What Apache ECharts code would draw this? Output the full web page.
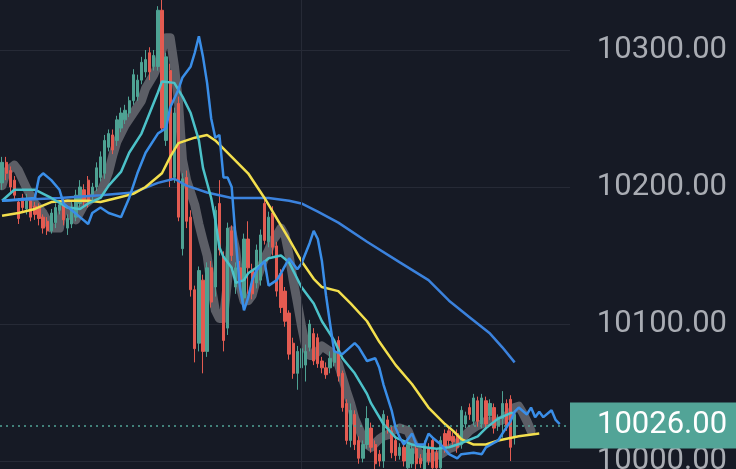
<!DOCTYPE html>
<html><head><meta charset="utf-8">
<script src="https://cdn.jsdelivr.net/npm/echarts@6/dist/echarts.min.js"></script>
<style>html,body{margin:0;padding:0;background:#161a25;}#c{width:736px;height:469px;}</style>
</head><body><div id="c"></div>
<script>
// bar slots (candles occupy 0..125, moving averages run a few slots further)
const categories = Array.from({length: 139}, (_, i) => String(i));

// candles: [open, close, low, high]
const candles = [
[10203,10218,10198,10222],[10218,10210,10205,10222],[10212,10200,10195,10215],[10205,10194,10190,10208],
[10189,10177,10173,10192],[10192,10185,10181,10195],[10184,10190,10180,10195],[10190,10178,10175,10192],
[10186,10180,10176,10189],[10185,10177,10172,10188],[10178,10170,10166,10180],[10175,10168,10165,10178],
[10168,10181,10166,10184],[10174,10185,10170,10188],[10183,10187,10180,10190],[10189,10176,10172,10192],
[10170,10177,10165,10180],[10173,10185,10170,10190],[10178,10194,10175,10198],[10188,10200,10185,10205],
[10198,10189,10185,10202],[10205,10188,10185,10208],[10193,10200,10190,10203],[10200,10214,10197,10218],
[10207,10222,10204,10226],[10210,10234,10206,10238],[10229,10239,10226,10242],[10238,10227,10224,10242],
[10234,10249,10230,10252],[10243,10254,10240,10258],[10249,10256,10246,10260],[10254,10263,10251,10266],
[10263,10282,10260,10286],[10266,10278,10263,10282],[10278,10291,10275,10295],[10284,10293,10280,10300],
[10298,10284,10278,10302],[10288,10296,10285,10300],[10288,10329,10285,10332],[10329,10243,10240,10337],
[10234,10295,10230,10298],[10285,10205,10200,10290],[10207,10254,10203,10258],[10261,10178,10175,10266],
[10155,10206,10150,10210],[10207,10175,10170,10212],[10178,10125,10120,10183],[10125,10082,10072,10128],
[10086,10139,10080,10142],[10132,10080,10064,10136],[10080,10141,10076,10145],[10141,10116,10112,10146],
[10127,10183,10120,10186],[10188,10154,10150,10205],[10149,10088,10080,10153],[10097,10170,10092,10174],
[10168,10150,10146,10172],[10127,10141,10122,10145],[10141,10131,10126,10146],[10119,10162,10115,10166],
[10162,10141,10122,10175],[10140,10122,10118,10144],[10130,10154,10126,10158],[10132,10165,10128,10169],
[10188,10161,10158,10192],[10160,10178,10156,10182],[10181,10156,10150,10186],[10157,10124,10120,10160],
[10137,10112,10108,10140],[10124,10102,10098,10127],[10108,10078,10074,10110],[10086,10064,10060,10090],
[10064,10080,10052,10084],[10068,10082,10064,10086],[10070,10080,10058,10085],[10083,10100,10080,10103],
[10093,10073,10070,10097],[10090,10071,10068,10093],[10073,10068,10064,10076],[10068,10063,10060,10072],
[10068,10075,10064,10080],[10072,10080,10069,10084],[10088,10062,10058,10091],[10064,10039,10036,10066],
[10042,10015,10012,10045],[10015,10037,10010,10042],[10034,10012,10008,10037],[10015,10002,9998,10018],
[10002,10012,9999,10015],[10012,10031,10009,10040],[10024,10010,10006,10028],[10012,9998,9993,10015],
[10005,10000,9996,10008],[10000,10034,9995,10037],[10030,10024,10020,10033],[10022,10006,10002,10025],
[10015,10004,10000,10018],[10004,10010,10001,10013],[10010,10000,9996,10013],[9995,10012,9992,10015],
[9998,10009,9995,10012],[10009,9998,9994,10012],[10002,9998,9995,10005],[9993,10012,9990,10015],
[10010,10000,9997,10013],[10015,9995,9992,10018],[10006,9995,9991,10009],[9995,10015,9990,10018],
[10020,10010,10006,10023],[10022,10015,10011,10025],[10018,10014,10010,10021],[10020,10010,10006,10023],
[10012,10037,10009,10040],[10027,10033,10024,10036],[10039,10034,10030,10042],[10029,10046,10026,10049],
[10044,10029,10025,10047],[10027,10046,10024,10049],[10044,10027,10024,10047],[10033,10042,10030,10045],
[10039,10024,10020,10042],[10026,10031,10022,10034],[10031,10042,10017,10051],[10042,10026,10022,10045],
[10045,10010,10000,10048],[10017,10034,10012,10037]
];

// moving-average style lines: [slot, value]
const grayMA = [[0,10201],[1,10211],[3,10216],[4,10212],[6,10199],[8,10188],[10,10181],[12,10170],[14,10170],[15,10187],[16,10188],[17,10179],[18,10176],[20,10187],[22,10192],[24,10196],[25,10203],[26,10211],[27,10223],[28,10233],[29,10239],[30,10245],[32,10254],[34,10263],[35,10272],[37,10282],[38,10289],[39,10300],[40,10309],[41,10309],[42,10289],[43,10263],[44,10220],[45,10205],[46,10196],[47,10187],[48,10173],[49,10161],[50,10150],[51,10128],[52,10110],[53,10104],[54,10104],[55,10132],[56,10168],[57,10154],[58,10128],[59,10117],[60,10117],[61,10121],[62,10132],[63,10140],[64,10148],[65,10154],[66,10161],[67,10165],[68,10170],[69,10165],[70,10150],[71,10132],[72,10116],[73,10099],[74,10084],[75,10077],[76,10077],[77,10080],[78,10084],[79,10082],[80,10080],[81,10077],[82,10071],[83,10061],[84,10051],[85,10042],[86,10031],[87,10024],[88,10017],[89,10012],[90,10010],[91,10013],[92,10016],[93,10018],[94,10019],[95,10022],[96,10023],[97,10024],[98,10023],[99,10022],[100,10015],[101,10009],[102,10005],[103,10003],[104,10002],[105,10003],[106,10004],[107,10005],[108,10007],[109,10009],[110,10010],[111,10013],[112,10016],[113,10019],[114,10022],[115,10024],[116,10026],[117,10027],[118,10029],[119,10029],[120,10029],[121,10029],[122,10030],[123,10033],[124,10035],[125,10039],[126,10040],[127,10035],[128,10029],[129,10022]];

const cyanMA = [[0,10190],[3,10198],[8,10198],[12,10192],[16,10185],[19,10184],[21,10188],[24,10192],[26,10201],[29,10211],[31,10225],[34,10239],[36,10254],[38,10269],[39,10277],[42,10276],[44,10266],[46,10254],[48,10234],[49,10214],[51,10192],[52,10176],[53,10156],[54,10149],[56,10141],[57,10130],[59,10132],[60,10137],[63,10143],[65,10148],[68,10150],[70,10145],[73,10127],[76,10115],[78,10102],[81,10088],[83,10075],[86,10064],[89,10049],[90,10042],[93,10027],[96,10017],[100,10012],[103,10010],[106,10009],[109,10010],[112,10013],[116,10018],[118,10024],[121,10031],[124,10035],[125,10035]];

const blueShifted = [[0,10190],[8,10192],[9,10207],[10,10210],[12,10205],[14,10198],[15,10188],[17,10183],[19,10178],[21,10173],[22,10181],[24,10185],[26,10181],[29,10178],[31,10192],[33,10210],[35,10225],[38,10239],[40,10243],[41,10258],[43,10271],[44,10280],[46,10288],[47,10298],[48,10310],[49,10295],[50,10276],[51,10250],[52,10236],[53,10238],[54,10207],[55,10207],[56,10200],[57,10161],[58,10127],[59,10110],[60,10119],[61,10132],[62,10139],[64,10146],[65,10128],[67,10132],[68,10137],[70,10148],[72,10140],[73,10144],[75,10159],[76,10168],[77,10162],[78,10146],[79,10121],[80,10100],[81,10080],[83,10078],[86,10086],[87,10083],[89,10073],[91,10075],[92,10068],[93,10056],[95,10037],[96,10024],[97,10017],[98,10012],[100,10020],[101,10012],[103,10012],[104,10020],[105,10017],[107,10012],[109,10005],[111,10002],[112,10005],[115,10006],[117,10005],[118,10010],[121,10015],[122,10020],[124,10029],[125,10036],[126,10039],[128,10034],[129,10039],[130,10032],[131,10036],[132,10032],[134,10037],[135,10030],[136,10027]];

const yellowMA = [[0,10179],[4,10181],[8,10184],[12,10189],[16,10190],[21,10190],[24,10189],[28,10192],[32,10195],[35,10200],[39,10210],[41,10222],[43,10232],[47,10236],[50,10238],[52,10234],[56,10222],[60,10210],[64,10192],[68,10172],[70,10162],[73,10146],[76,10133],[78,10127],[82,10124],[85,10115],[89,10102],[92,10087],[96,10070],[100,10056],[104,10039],[108,10027],[110,10022],[112,10016],[115,10012],[118,10012],[121,10015],[126,10018],[131,10020]];

const blueLongMA = [[0,10190],[14,10192],[24,10194],[32,10196],[38,10203],[42,10206],[45,10201],[50,10196],[56,10192],[65,10192],[70,10190],[73,10188],[77,10182],[82,10174],[89,10160],[97,10145],[104,10132],[109,10117],[114,10105],[119,10093],[122,10083],[125,10072]];

const lastPrice = 10026;
const vLineSlot = '73';
const yTicks = {min: 9900, max: 10400, interval: 100};

const chart = echarts.init(document.getElementById('c'), null, {renderer: 'canvas'});
const lineBase = {type: 'line', showSymbol: false, symbol: 'none', silent: true, animation: false};
chart.setOption({
  backgroundColor: '#161a25',
  animation: false,
  grid: {left: 0, right: 166, top: -87, height: 685, outerBoundsMode: 'none', containLabel: false},
  xAxis: {
    type: 'category', data: categories, boundaryGap: true,
    axisLine: {show: false}, axisTick: {show: false}, axisLabel: {show: false},
    splitLine: {show: false}
  },
  yAxis: {
    type: 'value', position: 'right', min: yTicks.min, max: yTicks.max, interval: yTicks.interval,
    axisLine: {show: false}, axisTick: {show: false},
    splitLine: {show: true, lineStyle: {color: '#262a36', width: 1}},
    axisLabel: {
      formatter: function (v) { return v.toFixed(2); },
      color: '#a9acb3', fontSize: 31, fontFamily: 'Roboto', align: 'right', margin: 157
    }
  },
  series: [
    Object.assign({}, lineBase, {name: 'gray', data: grayMA, z: 1,
      lineStyle: {color: '#5c5e66', width: 9, cap: 'round', join: 'round'},
      markLine: {silent: true, symbol: ['none', 'none'], animation: false, label: {show: false},
        lineStyle: {color: '#262a36', type: 'solid', width: 1}, data: [{xAxis: vLineSlot}]}}),
    {
      type: 'candlestick', data: candles, z: 2, barWidth: 2.8, silent: true,
      itemStyle: {color: '#4ea293', color0: '#e35b51', borderColor: '#4ea293', borderColor0: '#e35b51', borderWidth: 1},
      markLine: {
        silent: true, symbol: ['none', 'none'], animation: false,
        data: [{yAxis: lastPrice}],
        lineStyle: {color: '#52a497', type: [2, 4], width: 1.5},
        label: {
          show: true, position: 'end', distance: 0,
          formatter: function () { return lastPrice.toFixed(2); },
          color: '#ffffff', fontSize: 31, fontFamily: 'Roboto', lineHeight: 32,
          backgroundColor: '#52a497', padding: [7, 9, 7, 27]
        }
      }
    },
    Object.assign({}, lineBase, {name: 'blueLong', data: blueLongMA, z: 3,
      lineStyle: {color: '#3b82dd', width: 2.5}}),
    Object.assign({}, lineBase, {name: 'yellow', data: yellowMA, z: 3,
      lineStyle: {color: '#f3df4d', width: 2.5}}),
    Object.assign({}, lineBase, {name: 'cyan', data: cyanMA, z: 3,
      lineStyle: {color: '#4cc2c9', width: 2.5}}),
    Object.assign({}, lineBase, {name: 'blueShift', data: blueShifted, z: 3,
      lineStyle: {color: '#3a8ee8', width: 2.5}})
  ]
});
</script>
</body></html>
